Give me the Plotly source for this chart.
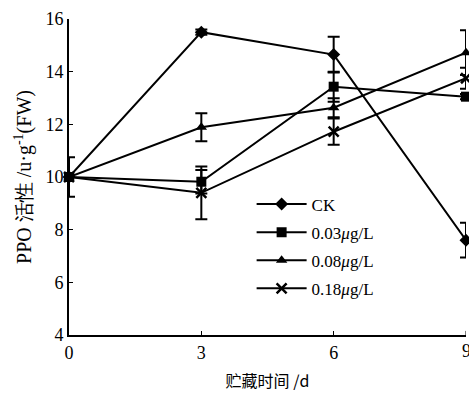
import plotly.graph_objects as go

days = [0, 3, 6, 9]
tick_labels = ["0", "3", "6", "9"]
series_names = ["CK", "0.03<i>μ</i>g/L", "0.08<i>μ</i>g/L", "0.18<i>μ</i>g/L"]
ck = [10.0, 15.5, 14.65, 7.6]
ck_err = [0.0, 0.1, 0.68, 0.66]
c003 = [10.0, 9.82, 13.43, 13.05]
c003_err = [0.0, 0.45, 0.57, 0.1]
c008 = [10.0, 11.89, 12.63, 14.72]
c008_err = [0.0, 0.53, 0.36, 0.85]
c018 = [10.0, 9.4, 11.72, 13.75]
c018_err = [0.75, 1.0, 0.5, 0.4]

symbols = ["diamond", "square", "triangle-up", "x-thin"]
values = [ck, c003, c008, c018]
errors = [ck_err, c003_err, c008_err, c018_err]

fig = go.Figure()
for i, (name, y, e, sym) in enumerate(zip(series_names, values, errors, symbols)):
    marker = dict(symbol=sym, size=10, color="black",
                  line=dict(color="black", width=2.5 if sym == "x-thin" else 0))
    fig.add_trace(go.Scatter(
        x=days, y=y, name=name, mode="lines+markers", legendgroup=f"g{i}",
        line=dict(color="black", width=2),
        marker=marker,
        error_y=dict(type="data", array=e, visible=True, color="black", thickness=2, width=6),
        cliponaxis=False,
    ))

font_serif = "Liberation Serif, Times New Roman, serif"
fig.update_layout(
    width=469, height=395,
    margin=dict(l=69, r=3, t=19, b=60),
    plot_bgcolor="white", paper_bgcolor="white",
    font=dict(family=font_serif, color="black", size=16),
    showlegend=True,
    legend=dict(x=0.46, y=0.47, xanchor="left", yanchor="top",
                bgcolor="rgba(0,0,0,0)", font=dict(size=17, family=font_serif),
                tracegroupgap=3, itemwidth=50),
    xaxis=dict(range=[0, 9], tickvals=days[:3], ticktext=tick_labels[:3], showline=True,
               linecolor="black", linewidth=2,
               ticks="inside", ticklen=4, tickcolor="black", showgrid=False, zeroline=False,
               tickfont=dict(size=18, family=font_serif),
               title=dict(text="贮藏时间 /d", font=dict(size=16, family="Noto Sans CJK SC"), standoff=14)),
    yaxis=dict(range=[4, 16], tickvals=[4, 6, 8, 10, 12, 14, 16], showline=True, linecolor="black", linewidth=2,
               ticks="inside", ticklen=4, tickcolor="black", showgrid=False, zeroline=False,
               tickfont=dict(size=18, family=font_serif),
               title=dict(text="PPO 活性 /u·g<sup>-1</sup>(FW)", font=dict(size=20, family=font_serif), standoff=8)),
)
# tick label at the far right edge (partly outside the window, as in the reference)
fig.add_annotation(x=days[3], y=0, xref="x", yref="paper", text=tick_labels[3], showarrow=False,
                   yanchor="top", yshift=-4, font=dict(size=18, family=font_serif, color="black"))
fig.add_shape(type="line", x0=days[3], x1=days[3], y0=0, y1=0.013, xref="x", yref="paper",
              line=dict(color="black", width=1))
fig.write_html("out.html")
